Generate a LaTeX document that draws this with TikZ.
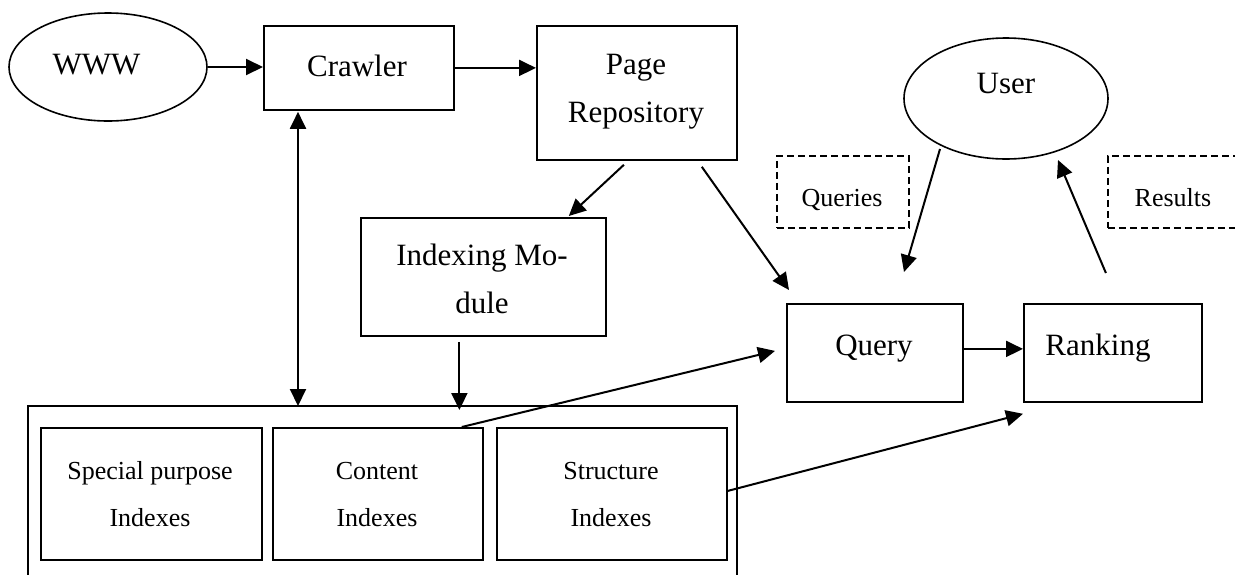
\documentclass[tikz,border=0pt]{standalone}
\usepackage{fontspec}
\setmainfont{Liberation Serif}
\usetikzlibrary{arrows.meta,shapes.geometric}

\tikzset{
  box/.style={draw, line width=1.8pt, inner sep=0pt, anchor=north west},
  dbox/.style={draw, line width=1.6pt, dash pattern=on 7pt off 4pt, inner sep=0pt, anchor=north west},
  oval/.style={draw, line width=1.6pt, shape=ellipse, inner sep=0pt},
  big/.style={font=\fontsize{31}{48}\selectfont, inner sep=0pt, align=center},
  small/.style={font=\fontsize{26}{47}\selectfont, inner sep=0pt, align=center},
  arr/.style={line width=2pt, -{Triangle[length=17pt,width=16pt]}},
  darr/.style={line width=2pt, {Triangle[length=17pt,width=16pt]}-{Triangle[length=17pt,width=16pt]}},
}

\begin{document}
\begin{tikzpicture}[x=1pt, y=-1pt]
\clip (0,0) rectangle (1235,574);

% ---- boxes and ovals ----
\node[oval, minimum width=198pt, minimum height=108pt] (www) at (108,67) {};
\node[box, minimum width=190pt, minimum height=84pt] (crawler) at (263,25) {};
\node[box, minimum width=200pt, minimum height=134pt] (repo) at (536,25) {};
\node[box, minimum width=245pt, minimum height=118pt] (indexing) at (360,217) {};
\node[box, minimum width=176pt, minimum height=98pt] (query) at (786,303) {};
\node[box, minimum width=178pt, minimum height=98pt] (ranking) at (1023,303) {};
\node[oval, minimum width=204pt, minimum height=121pt] (user) at (1006,98.5) {};
\node[dbox, minimum width=132pt, minimum height=72pt] (queries) at (776,155) {};
\node[dbox, minimum width=140pt, minimum height=72pt] (results) at (1107,155) {};

% index store, open at the bottom edge
\node[box, minimum width=709pt, minimum height=200pt] (store) at (27,405) {};
\node[box, minimum width=221pt, minimum height=132pt] (special) at (40,427) {};
\node[box, minimum width=210pt, minimum height=132pt] (content) at (272,427) {};
\node[box, minimum width=230pt, minimum height=132pt] (structure) at (496,427) {};

% ---- labels ----
\node[big, anchor=base] (t-www) at (96.5,74) {WWW};
\node[big, anchor=base] (t-crawler) at (357,76) {Crawler};
\node[big] (t-repo) at (636,92) {Page\\Repository};
\node[big] (t-indexing) at (482,279) {Indexing Mo-\\dule};
\node[big, anchor=base] (t-query) at (874,355) {Query};
\node[big, anchor=base] (t-ranking) at (1098,355) {Ranking};
\node[big, anchor=base] (t-user) at (1006,93) {User};
\node[small, anchor=base] (t-queries) at (842,206) {Queries};
\node[small, anchor=base] (t-results) at (1173,206) {Results};
\node[small] (t-special) at (150,494.5) {Special purpose\\Indexes};
\node[small] (t-content) at (377,494.5) {Content\\Indexes};
\node[small] (t-structure) at (611,494.5) {Structure\\Indexes};

% ---- connectors ----
\draw[arr] (www.east) -- (www.east -| crawler.west);
\draw[arr] (crawler.east) -- (crawler.east -| repo.west);
\draw[arr] ([shift={(-13,4)}]repo.south) -- ([shift={(-38,-1)}]indexing.north east);
\draw[arr] ([shift={(-36,6)}]repo.south east) -- ([shift={(3,-13)}]query.north west);
\draw[darr] ([shift={(35,1)}]crawler.south west) -- ([shift={(35,1)}]crawler.south west |- store.north);
\draw[arr] ([shift={(-24,5)}]indexing.south) -- ([shift={(-24,5)}]indexing.south |- store.north);
\draw[arr] ([shift={(-22,0)}]content.north east) -- ([shift={(-11,-2)}]query.west);
\draw[arr] ([shift={(0,-3)}]structure.east) -- ([shift={(0,11)}]ranking.south west);
\draw[arr] ([shift={(0,-4)}]query.east) -- ([shift={(0,-4)}]ranking.west);
\draw[arr] ([shift={(-66,50.5)}]user.center) -- ([shift={(-102,173.5)}]user.center);
\draw[arr] ([shift={(-7,-30)}]ranking.north) -- ([shift={(52,61.5)}]user.center);
\end{tikzpicture}
\end{document}
